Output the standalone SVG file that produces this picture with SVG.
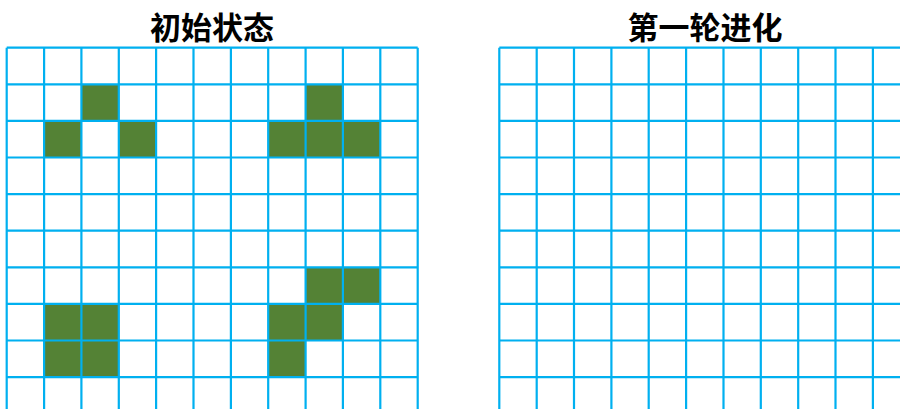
<svg xmlns="http://www.w3.org/2000/svg" width="900" height="409" viewBox="0 0 900 409">
<style>
.title{font-family:"Noto Sans CJK SC","Noto Sans",sans-serif;font-weight:bold;font-size:31px;fill:#000;text-anchor:middle}
.grid{fill:none;stroke:#00B0F0;stroke-width:2.2}
.live{fill:#548235}
</style>
<rect x="0" y="0" width="900" height="409" fill="#fff"/>
<g id="initial">
<text class="title" x="212" y="39">初始状态</text>
<g id="initial-cells">
<rect class="live" x="81.4" y="84.3" width="37.4" height="36.6"/>
<rect class="live" x="44.1" y="120.9" width="37.4" height="36.6"/>
<rect class="live" x="118.8" y="120.9" width="37.4" height="36.6"/>
<rect class="live" x="305.6" y="84.3" width="37.4" height="36.6"/>
<rect class="live" x="268.2" y="120.9" width="37.4" height="36.6"/>
<rect class="live" x="305.6" y="120.9" width="37.4" height="36.6"/>
<rect class="live" x="342.9" y="120.9" width="37.4" height="36.6"/>
<rect class="live" x="305.6" y="267.3" width="37.4" height="36.6"/>
<rect class="live" x="342.9" y="267.3" width="37.4" height="36.6"/>
<rect class="live" x="44.1" y="303.9" width="37.4" height="36.6"/>
<rect class="live" x="81.4" y="303.9" width="37.4" height="36.6"/>
<rect class="live" x="268.2" y="303.9" width="37.4" height="36.6"/>
<rect class="live" x="305.6" y="303.9" width="37.4" height="36.6"/>
<rect class="live" x="44.1" y="340.5" width="37.4" height="36.6"/>
<rect class="live" x="81.4" y="340.5" width="37.4" height="36.6"/>
<rect class="live" x="268.2" y="340.5" width="37.4" height="36.6"/>
</g>
<path class="grid" d="M6.7 47.7V409M44.1 47.7V409M81.4 47.7V409M118.8 47.7V409M156.1 47.7V409M193.5 47.7V409M230.9 47.7V409M268.2 47.7V409M305.6 47.7V409M342.9 47.7V409M380.3 47.7V409M417.7 47.7V409
M6.7 47.7H417.7M6.7 84.3H417.7M6.7 120.9H417.7M6.7 157.5H417.7M6.7 194.1H417.7M6.7 230.7H417.7M6.7 267.3H417.7M6.7 303.9H417.7M6.7 340.5H417.7M6.7 377.1H417.7"/>
</g>
<g id="first-evolution">
<text class="title" x="705" y="39">第一轮进化</text>
<path class="grid" d="M499.3 47.7V409M536.7 47.7V409M574 47.7V409M611.4 47.7V409M648.7 47.7V409M686.1 47.7V409M723.5 47.7V409M760.8 47.7V409M798.2 47.7V409M835.5 47.7V409M872.9 47.7V409
M499.3 47.7H900M499.3 84.3H900M499.3 120.9H900M499.3 157.5H900M499.3 194.1H900M499.3 230.7H900M499.3 267.3H900M499.3 303.9H900M499.3 340.5H900M499.3 377.1H900"/>
</g>
</svg>
